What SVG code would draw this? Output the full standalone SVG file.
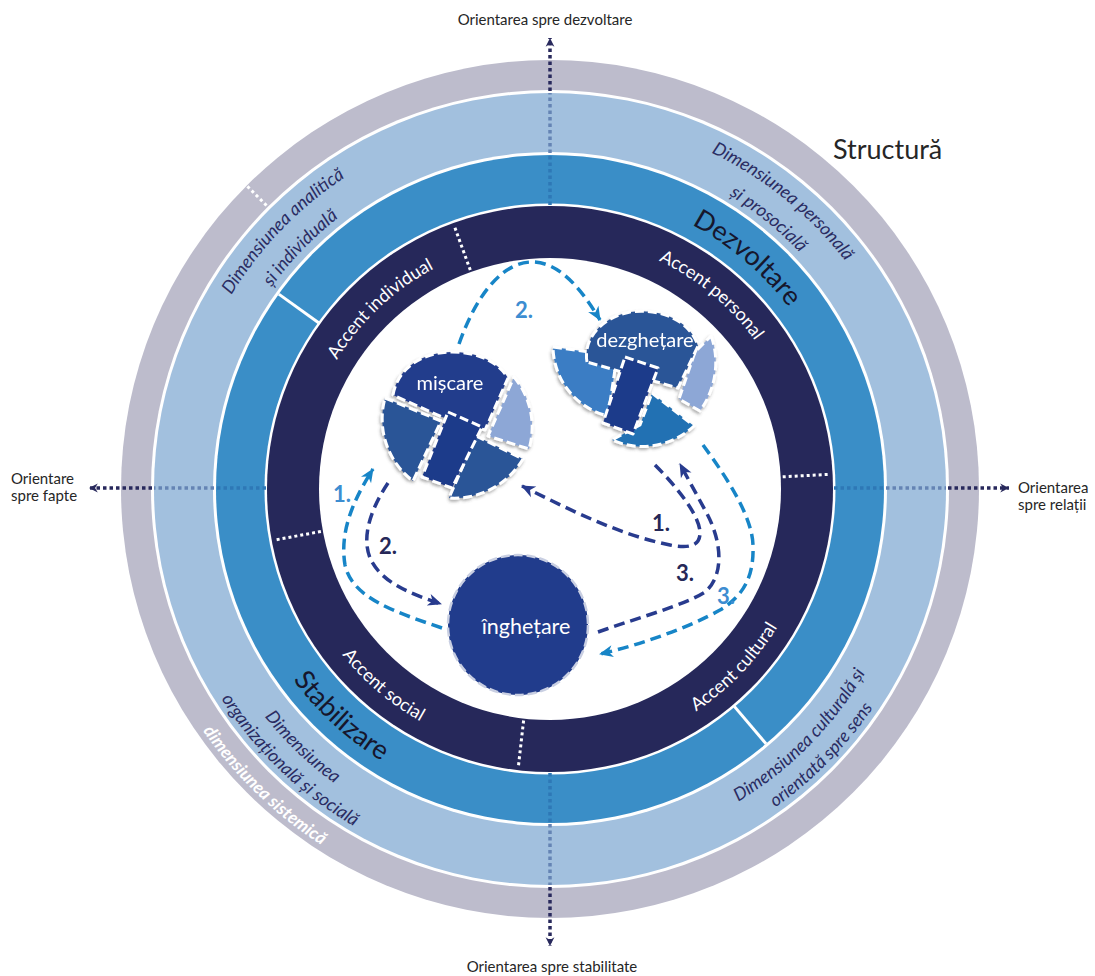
<svg xmlns="http://www.w3.org/2000/svg" width="1095" height="976" viewBox="0 0 1095 976">
  <style>
    text { font-family: Lato, "Liberation Sans", sans-serif; }
    .ax { font-size: 15px; fill: #262626; }
    .title { font-size: 27px; fill: #262626; }
    .big { font-size: 27px; fill: #16162c; }
    .acc { font-size: 18px; fill: #ffffff; }
    .dim { font-size: 18px; fill: #2a2c62; font-style: italic; }
    .sys { font-size: 17.5px; fill: #ffffff; font-style: italic; font-weight: bold; }
    .node { font-size: 20px; fill: #ffffff; text-anchor: middle; }
    .num { font-size: 22px; font-weight: bold; }
    .piece { stroke: #ffffff; stroke-width: 3; stroke-dasharray: 9 4; stroke-linejoin: round; }
    .flow { fill: none; stroke-width: 3.5; stroke-dasharray: 11 6; stroke-linecap: butt; }
    .lb { stroke: #1785c7; }
    .dk { stroke: #283b8e; }
    .axn { stroke: #28295c; stroke-width: 3.5; stroke-dasharray: 3.5 3; }
    .axl { stroke: #6584b4; stroke-width: 3.5; stroke-dasharray: 3.5 3; }
    .axm { stroke: #2e78b6; stroke-width: 3.5; stroke-dasharray: 3.5 3; }
    .wdot { stroke: #ffffff; stroke-width: 3; stroke-dasharray: 3 3; }
    .wsol { stroke: #ffffff; stroke-width: 3; }
  </style>
  <defs>
    <!-- clockwise circles (text on the upper half) -->
    <path id="cw249" d="M550,738 A249,249 0 1 1 550,240 A249,249 0 1 1 550,738"/>
    <path id="cw253" d="M550,742 A253,253 0 1 1 550,236 A253,253 0 1 1 550,742"/>
    <path id="cw300" d="M550,789 A300,300 0 1 1 550,189 A300,300 0 1 1 550,789"/>
    <path id="cw344" d="M550,833 A344,344 0 1 1 550,145 A344,344 0 1 1 550,833"/>
    <path id="cw373" d="M550,862 A373,373 0 1 1 550,116 A373,373 0 1 1 550,862"/>
    <!-- counter-clockwise circles (text on the lower half) -->
    <path id="ccw266" d="M550,223 A266,266 0 1 0 550,755 A266,266 0 1 0 550,223"/>
    <path id="ccw320" d="M550,169 A320,320 0 1 0 550,809 A320,320 0 1 0 550,169"/>
    <path id="ccw365" d="M550,124 A365,365 0 1 0 550,854 A365,365 0 1 0 550,124"/>
    <path id="ccw390" d="M550,99 A390,390 0 1 0 550,879 A390,390 0 1 0 550,99"/>
    <path id="ccw423" d="M550,66 A423,423 0 1 0 550,912 A423,423 0 1 0 550,66"/>
    <marker id="axhead" viewBox="0 0 10 10" refX="9" refY="5" markerWidth="11" markerHeight="11" markerUnits="userSpaceOnUse" orient="auto">
      <path d="M1,1 L9,5 L1,9 L3.5,5 Z" fill="#28295c"/>
    </marker>
    <marker id="headLb" viewBox="0 0 16 16" refX="14" refY="8" markerWidth="16" markerHeight="16" markerUnits="userSpaceOnUse" orient="auto">
      <path d="M1,2 L15,8 L1,14 L5,8 Z" fill="#1785c7"/>
    </marker>
    <marker id="headDk" viewBox="0 0 16 16" refX="14" refY="8" markerWidth="16" markerHeight="16" markerUnits="userSpaceOnUse" orient="auto">
      <path d="M1,2 L15,8 L1,14 L5,8 Z" fill="#283b8e"/>
    </marker>
    <filter id="shade" x="-20%" y="-20%" width="140%" height="140%">
      <feDropShadow dx="-1" dy="2" stdDeviation="1.5" flood-color="#4a4a4a" flood-opacity="0.45"/>
    </filter>
  </defs>

  <rect width="1095" height="976" fill="#ffffff"/>

  <!-- concentric rings -->
  <g id="rings">
    <circle cx="550" cy="489" r="429" fill="#bdbccc"/>
    <circle cx="550" cy="489" r="399" fill="#ffffff"/>
    <circle cx="550" cy="489" r="396" fill="#a2c0de"/>
    <circle cx="550" cy="489" r="337" fill="#ffffff"/>
    <circle cx="550" cy="489" r="334" fill="#3a8ec7"/>
    <circle cx="550" cy="489" r="285.5" fill="#ffffff"/>
    <circle cx="550" cy="489" r="283" fill="#26285a"/>
    <circle cx="550" cy="489" r="231" fill="#ffffff"/>
  </g>

  <!-- ring dividers -->
  <g id="dividers">
    <line class="wdot" x1="266.5" y1="205.5" x2="247.4" y2="186.4"/>
    <line class="wsol" x1="318.6" y1="322.7" x2="278.8" y2="294.1"/>
    <line class="wsol" x1="734.3" y1="706.4" x2="766.0" y2="743.7"/>
    <line class="wdot" x1="470.3" y1="270.1" x2="453.9" y2="224.9"/>
    <line class="wdot" x1="782.7" y1="476.8" x2="830.6" y2="474.3"/>
    <line class="wdot" x1="320.9" y1="531.5" x2="273.7" y2="540.2"/>
    <line class="wdot" x1="523.6" y1="720.5" x2="518.2" y2="768.2"/>
  </g>

  <!-- orientation axes -->
  <g id="axes">
    <line class="axm" x1="550" y1="205" x2="550" y2="155"/>
    <line class="axl" x1="550" y1="153" x2="550" y2="93"/>
    <line class="axn" x1="550" y1="91" x2="550" y2="38" marker-end="url(#axhead)"/>
    <line class="axm" x1="550" y1="773" x2="550" y2="822"/>
    <line class="axl" x1="550" y1="824" x2="550" y2="885"/>
    <line class="axn" x1="550" y1="887" x2="550" y2="946" marker-end="url(#axhead)"/>
    <line class="axm" x1="266" y1="488" x2="216" y2="488"/>
    <line class="axl" x1="214" y1="488" x2="154" y2="488"/>
    <line class="axn" x1="152" y1="488" x2="89" y2="488" marker-end="url(#axhead)"/>
    <line class="axm" x1="834" y1="488" x2="884" y2="488"/>
    <line class="axl" x1="886" y1="488" x2="946" y2="488"/>
    <line class="axn" x1="948" y1="488" x2="1009" y2="488" marker-end="url(#axhead)"/>
  </g>

  <!-- axis and corner labels -->
  <g id="labels">
    <text class="ax" x="545" y="25" text-anchor="middle">Orientarea spre dezvoltare</text>
    <text class="ax" x="552" y="972" text-anchor="middle">Orientarea spre stabilitate</text>
    <text class="ax" x="11" y="484">Orientare</text>
    <text class="ax" x="11" y="501">spre fapte</text>
    <text class="ax" x="1018" y="493">Orientarea</text>
    <text class="ax" x="1018" y="510">spre relații</text>
    <text class="title" x="833" y="159">Structură</text>
  </g>

  <!-- curved ring texts -->
  <g id="ring-texts">
    <text class="big" transform="rotate(40.5 550 489)"><textPath href="#cw300" startOffset="50%" text-anchor="middle">Dezvoltare</textPath></text>
    <text class="big" transform="rotate(42.6 550 489)"><textPath href="#ccw320" startOffset="50%" text-anchor="middle">Stabilizare</textPath></text>

    <text class="acc" transform="rotate(-43.3 550 489)"><textPath href="#cw249" startOffset="50%" text-anchor="middle">Accent individual</textPath></text>
    <text class="acc" transform="rotate(39.8 550 489)"><textPath href="#cw253" startOffset="50%" text-anchor="middle">Accent personal</textPath></text>
    <text class="acc" transform="rotate(40.3 550 489)"><textPath href="#ccw266" startOffset="50%" text-anchor="middle">Accent social</textPath></text>
    <text class="acc" transform="rotate(-46 550 489)"><textPath href="#ccw266" startOffset="50%" text-anchor="middle">Accent cultural</textPath></text>

    <text class="dim" transform="rotate(-46 550 489)"><textPath href="#cw373" startOffset="50%" text-anchor="middle">Dimensiunea analitică</textPath></text>
    <text class="dim" transform="rotate(-46 550 489)"><textPath href="#cw344" startOffset="50%" text-anchor="middle">și individuală</textPath></text>
    <text class="dim" transform="rotate(39 550 489)"><textPath href="#cw373" startOffset="50%" text-anchor="middle">Dimensiunea personală</textPath></text>
    <text class="dim" transform="rotate(39 550 489)"><textPath href="#cw344" startOffset="50%" text-anchor="middle">și prosocială</textPath></text>
    <text class="dim" transform="rotate(43.8 550 489)"><textPath href="#ccw365" startOffset="50%" text-anchor="middle">Dimensiunea</textPath></text>
    <text class="dim" transform="rotate(43.8 550 489)"><textPath href="#ccw390" startOffset="50%" text-anchor="middle">organizațională și socială</textPath></text>
    <text class="dim" transform="rotate(-45.4 550 489)"><textPath href="#ccw365" startOffset="50%" text-anchor="middle">Dimensiunea culturală și</textPath></text>
    <text class="dim" transform="rotate(-45.6 550 489)"><textPath href="#ccw390" startOffset="50%" text-anchor="middle">orientată spre sens</textPath></text>
    <text class="sys" transform="rotate(43.9 550 489)"><textPath href="#ccw423" startOffset="50%" text-anchor="middle">dimensiunea sistemică</textPath></text>
  </g>

  <!-- node: mișcare (broken disc) -->
  <g id="miscare" filter="url(#shade)">
    <path class="piece" fill="#2b5597" d="M385,398 L441,421 L413,481 A78,78 0 0 1 385,398 Z"/>
    <path class="piece" fill="#2b5597" d="M476,436 L523,459 A80,80 0 0 1 449,498 Z"/>
    <path class="piece" fill="#8da7d6" d="M514,377 A78,78 0 0 1 529,449 L488,436 Z"/>
    <path class="piece" fill="#213c8c" d="M393,395 C398,366 425,352 452,352 C478,352 498,362 508,378 L485,430 L442,417 Z"/>
    <path class="piece" fill="#1f3a8a" d="M448,412 L482,427 L452,488 L422,477 Z"/>
    <text class="node" x="450" y="390">mișcare</text>
  </g>

  <!-- node: dezghețare (broken disc) -->
  <g id="dezghetare" filter="url(#shade)">
    <path class="piece" fill="#3a7dc4" d="M553,347 L617,356 L608,416 A72,72 0 0 1 553,347 Z"/>
    <path class="piece" fill="#2371b3" d="M652,393 L694,426 A75,75 0 0 1 612,440 L640,425 Z"/>
    <path class="piece" fill="#8da7d6" d="M711,336 C719,356 718,386 700,411 L679,399 L695,352 Z"/>
    <path class="piece" fill="#2b5597" d="M587,362 C583,340 600,318 630,312 C660,308 690,320 698,346 L678,388 Z"/>
    <path class="piece" fill="#1f3a8a" d="M625,357 L658,368 L633,434 L603,423 Z"/>
    <text class="node" x="645" y="347">dezghețare</text>
  </g>

  <!-- node: înghețare -->
  <g id="inghetare">
    <circle cx="518" cy="625" r="70" fill="#213c8c" stroke="#c9cfe2" stroke-width="2.5" stroke-dasharray="9 4"/>
    <text class="node" x="526" y="634" style="font-size:21.5px">înghețare</text>
  </g>

  <!-- process connectors -->
  <g id="connectors">
    <path class="flow lb" d="M459,344 C478,290 505,262 532,262 C560,262 582,290 600,320" marker-end="url(#headLb)"/>
    <path class="flow lb" d="M442,628 C395,612 352,598 345,565 C340,535 350,505 373,469" marker-end="url(#headLb)"/>
    <path class="flow lb" d="M703,445 C725,475 752,515 753,545 C754,575 745,595 720,610 C690,627 640,645 600,654" marker-end="url(#headLb)"/>
    <path class="flow dk" d="M388,483 C370,510 360,540 372,562 C385,585 415,595 441,604" marker-end="url(#headDk)"/>
    <path class="flow dk" d="M655,465 C675,485 700,515 700,533 C700,548 685,548 670,545 C620,535 570,510 522,486" marker-end="url(#headDk)"/>
    <path class="flow dk" d="M598,632 C640,617 685,605 705,592 C725,575 722,540 705,510 L680,464" marker-end="url(#headDk)"/>
  </g>

  <!-- step numbers -->
  <g id="steps">
    <text class="num" x="515" y="318" fill="#3d8dd1">2.</text>
    <text class="num" x="333" y="502" fill="#3d8dd1">1.</text>
    <text class="num" x="717" y="604" fill="#3d8dd1">3.</text>
    <text class="num" x="379" y="554" fill="#262858">2.</text>
    <text class="num" x="652" y="531" fill="#262858">1.</text>
    <text class="num" x="676" y="581" fill="#262858">3.</text>
  </g>
</svg>
